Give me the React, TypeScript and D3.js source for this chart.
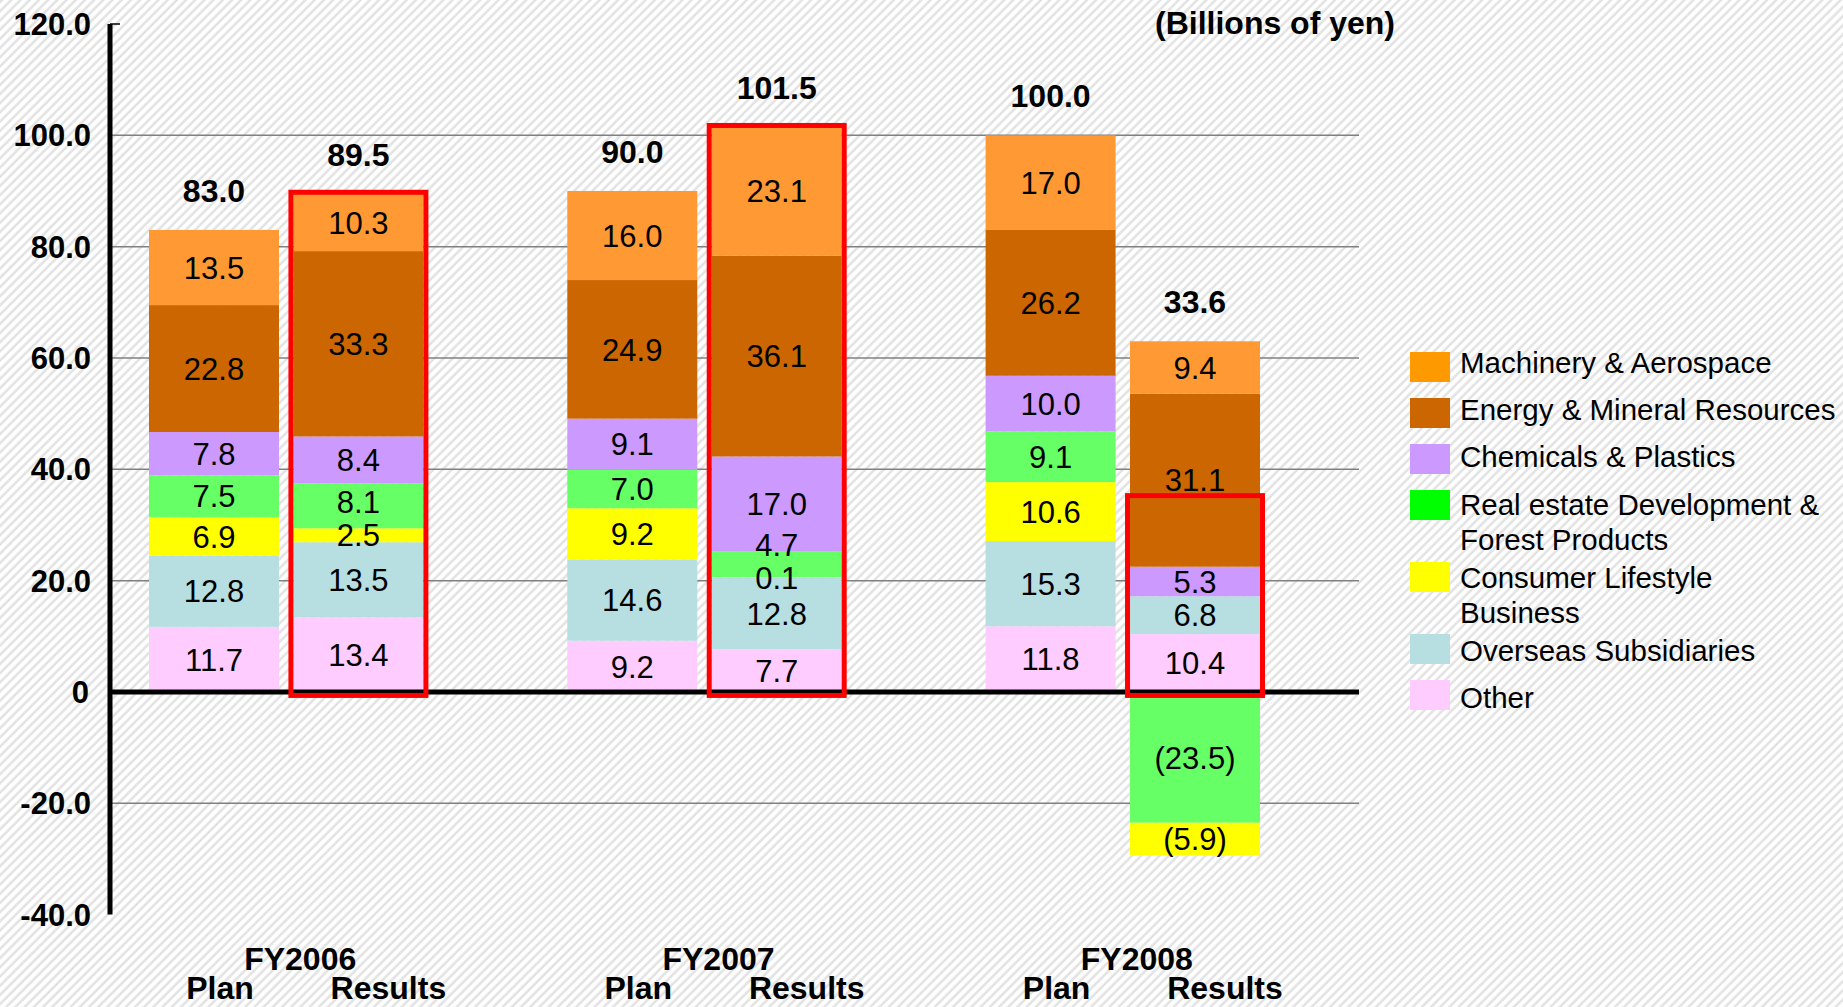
import React from "react";
import * as d3 from "d3";

const groups = ["FY2006", "FY2007", "FY2008"];
const phases = ["Plan", "Results"];

// stack order bottom -> top
const seriesKeys = ["Other", "Overseas", "Consumer", "RealEstate", "Chemicals", "Energy", "Machinery"];
const other = [11.7, 13.4, 9.2, 7.7, 11.8, 10.4];
const overseas = [12.8, 13.5, 14.6, 12.8, 15.3, 6.8];
const consumer = [6.9, 2.5, 9.2, 0.1, 10.6, -5.9];
const realEstate = [7.5, 8.1, 7.0, 4.7, 9.1, -23.5];
const chemicals = [7.8, 8.4, 9.1, 17.0, 10.0, 5.3];
const energy = [22.8, 33.3, 24.9, 36.1, 26.2, 31.1];
const machinery = [13.5, 10.3, 16.0, 23.1, 17.0, 9.4];
const totals = [83.0, 89.5, 90.0, 101.5, 100.0, 33.6];
const highlightTop: (number | null)[] = [null, 89.5, null, 101.5, null, 35.0];

const seriesValues: Record<string, number[]> = {
  Other: other,
  Overseas: overseas,
  Consumer: consumer,
  RealEstate: realEstate,
  Chemicals: chemicals,
  Energy: energy,
  Machinery: machinery,
};

const barColors: Record<string, string> = {
  Machinery: "#FF9933",
  Energy: "#CC6600",
  Chemicals: "#CC99FF",
  RealEstate: "#66FF66",
  Consumer: "#FFFF00",
  Overseas: "#B7DEE0",
  Other: "#FFCCFF",
};

const legendKeys = ["Machinery", "Energy", "Chemicals", "RealEstate", "Consumer", "Overseas", "Other"];
const legendLabels: string[][] = [
  ["Machinery & Aerospace"],
  ["Energy & Mineral Resources"],
  ["Chemicals & Plastics"],
  ["Real estate Development &", "Forest Products"],
  ["Consumer Lifestyle", "Business"],
  ["Overseas Subsidiaries"],
  ["Other"],
];
const legendColors = ["#FF9900", "#CC6600", "#CC99FF", "#00FF00", "#FFFF00", "#B7DEE0", "#FFCCFF"];

const yTicks = [120, 100, 80, 60, 40, 20, 0, -20, -40];
const unitLabel = "(Billions of yen)";

const W = 1843;
const H = 1007;
const FONT = "'Liberation Sans', Arial, Helvetica, sans-serif";

export default function App() {
  const y = d3.scaleLinear().domain([-40, 120]).range([914.6, 24]);
  const x0 = d3.scaleBand<string>().domain(groups).range([149, 1260]).paddingInner(0.344).paddingOuter(0);
  const x1 = d3.scaleBand<string>().domain(phases).range([0, x0.bandwidth()]).paddingInner(0.1).paddingOuter(0);
  const axisX = 110;
  const gridEnd = 1359;

  const bars = groups.flatMap((g, gi) =>
    phases.map((p, pi) => {
      const idx = gi * 2 + pi;
      let pos = 0;
      let neg = 0;
      const segs: { key: string; v: number; y0: number; y1: number; ly: number }[] = [];
      seriesKeys.forEach((k) => {
        const v = seriesValues[k][idx];
        if (v >= 0) {
          segs.push({ key: k, v, y0: pos, y1: pos + v, ly: 0 });
          pos += v;
        }
      });
      [...seriesKeys].reverse().forEach((k) => {
        const v = seriesValues[k][idx];
        if (v < 0) {
          segs.push({ key: k, v, y0: neg, y1: neg + v, ly: 0 });
          neg += v;
        }
      });
      // label positions: centered, pushed up if colliding with the label below
      let prevLy = Infinity;
      segs.forEach((s) => {
        const c = (y(s.y0) + y(s.y1)) / 2;
        if (s.v >= 0) {
          s.ly = Math.min(c, prevLy - 33);
          prevLy = s.ly;
        } else {
          s.ly = c;
        }
      });
      return { g, p, idx, x: (x0(g) as number) + (x1(p) as number), segs, top: pos };
    })
  );
  const bw = x1.bandwidth();

  const fmt = (v: number) => (v < 0 ? `(${Math.abs(v).toFixed(1)})` : v.toFixed(1));

  let legendY = 352;
  const legendRows = legendKeys.map((k, i) => {
    const top = legendY;
    legendY += legendLabels[i].length > 1 ? 72 : 46;
    return { k, i, top };
  });

  return (
    <>
      <style>{`body{margin:0;overflow:hidden}`}</style>
      <svg width={W} height={H} style={{ display: "block" }} fontFamily={FONT}>
        <defs>
          <pattern id="hatch" width="6.5" height="6.5" patternUnits="userSpaceOnUse" patternTransform="rotate(45)">
            <rect width="6.5" height="6.5" fill="#ffffff" />
            <line x1="1.5" y1="0" x2="1.5" y2="6.5" stroke="#e3e3e3" strokeWidth="2.6" />
          </pattern>
        </defs>
        <rect width={W} height={H} fill="url(#hatch)" />

        {/* gridlines */}
        {yTicks
          .filter((t) => t !== 0 && t !== 120 && t !== -40)
          .map((t) => (
            <line key={t} x1={axisX} x2={gridEnd} y1={y(t)} y2={y(t)} stroke="#808080" strokeWidth={1.5} />
          ))}

        {/* bars */}
        {bars.map((b) => (
          <g key={b.idx}>
            {b.segs.map((s) => (
              <rect
                key={s.key}
                x={b.x}
                width={bw}
                y={Math.min(y(s.y0), y(s.y1))}
                height={Math.abs(y(s.y0) - y(s.y1))}
                fill={barColors[s.key]}
              />
            ))}
          </g>
        ))}

        {/* zero line & axis */}
        <line x1={axisX} x2={gridEnd} y1={y(0)} y2={y(0)} stroke="#000" strokeWidth={5} />
        <line x1={axisX} x2={axisX} y1={y(120)} y2={y(-40)} stroke="#000" strokeWidth={5} />
        <line x1={axisX} x2={120} y1={y(120)} y2={y(120)} stroke="#000" strokeWidth={1.5} />

        {/* highlight boxes */}
        {bars.map((b) =>
          highlightTop[b.idx] != null ? (
            <rect
              key={"h" + b.idx}
              x={b.x - 2.5}
              width={bw + 5}
              y={y(highlightTop[b.idx] as number) - 1.5}
              height={y(0) + 3.5 - (y(highlightTop[b.idx] as number) - 1.5)}
              fill="none"
              stroke="#FF0000"
              strokeWidth={5}
            />
          ) : null
        )}

        {/* segment labels */}
        {bars.map((b) =>
          b.segs.map((s) => (
            <text
              key={"l" + b.idx + s.key}
              x={b.x + bw / 2}
              y={s.ly}
              dy="0.36em"
              textAnchor="middle"
              fontSize={31}
              fill="#000"
            >
              {fmt(s.v)}
            </text>
          ))
        )}

        {/* totals */}
        {bars.map((b) => (
          <text
            key={"t" + b.idx}
            x={b.x + bw / 2}
            y={y(b.top) - 28}
            textAnchor="middle"
            fontSize={32}
            fontWeight="bold"
          >
            {totals[b.idx].toFixed(1)}
          </text>
        ))}

        {/* y tick labels */}
        {yTicks.map((t) => (
          <text key={"y" + t} x={t === 0 ? 89 : 91} y={y(t)} dy="0.36em" textAnchor="end" fontSize={31} fontWeight="bold">
            {t === 0 ? "0" : t.toFixed(1)}
          </text>
        ))}

        {/* x labels */}
        {groups.map((g) => (
          <text
            key={"g" + g}
            x={(x0(g) as number) + x0.bandwidth() / 2 + 14}
            y={970}
            textAnchor="middle"
            fontSize={32}
            fontWeight="bold"
          >
            {g}
          </text>
        ))}
        {bars.map((b) => (
          <text
            key={"p" + b.idx}
            x={b.x + bw / 2 + (b.p === "Plan" ? 6 : 30)}
            y={999}
            textAnchor="middle"
            fontSize={32}
            fontWeight="bold"
          >
            {b.p}
          </text>
        ))}

        {/* unit label */}
        <text x={1395} y={34} textAnchor="end" fontSize={32} fontWeight="bold">
          {unitLabel}
        </text>

        {/* legend */}
        {legendRows.map((r) => (
          <g key={"lg" + r.k}>
            <rect x={1410} y={r.top} width={40} height={30} fill={legendColors[r.i]} />
            {legendLabels[r.i].map((line, li) => (
              <text key={li} x={1460} y={r.top + 21 + r.i * 1.2 + li * 35} fontSize={29.5}>
                {line}
              </text>
            ))}
          </g>
        ))}
      </svg>
    </>
  );
}
